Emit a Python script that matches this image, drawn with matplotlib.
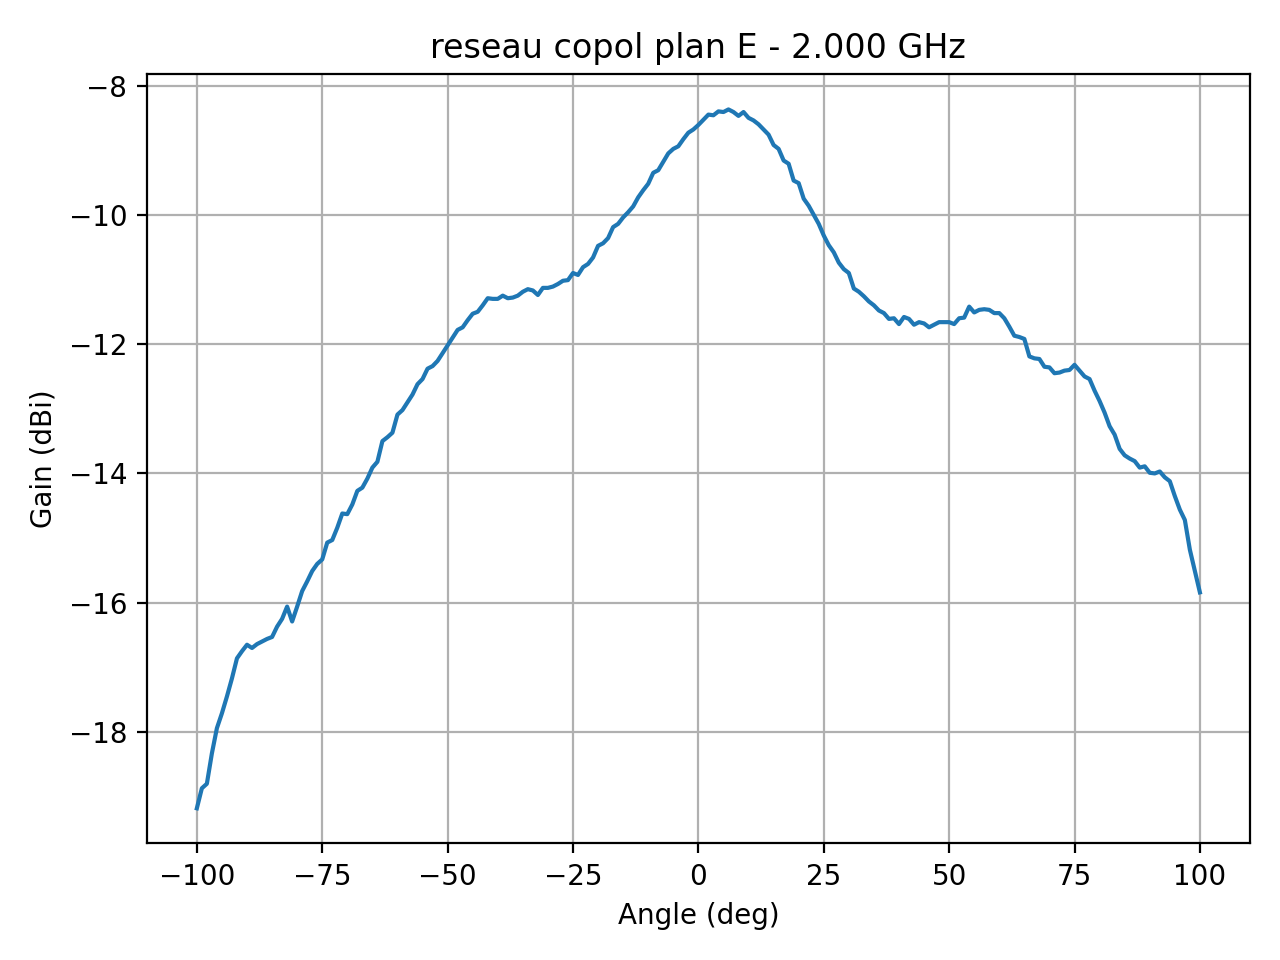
import numpy as np
import matplotlib
matplotlib.use("Agg")
import matplotlib.pyplot as plt

freq_ghz = 2.0
angles = np.arange(-100, 101, 1)

gain_dbi = [
    -19.18, -18.87, -18.80, -18.33, -17.94, -17.71, -17.45, -17.17, -16.86, -16.75,
    -16.65, -16.70, -16.64, -16.60, -16.56, -16.53, -16.37, -16.25, -16.06, -16.29,
    -16.06, -15.82, -15.67, -15.51, -15.40, -15.33, -15.07, -15.03, -14.84, -14.62,
    -14.63, -14.48, -14.27, -14.22, -14.08, -13.91, -13.82, -13.50, -13.44, -13.37,
    -13.09, -13.02, -12.90, -12.78, -12.62, -12.54, -12.38, -12.34, -12.26, -12.14,
    -12.02, -11.90, -11.78, -11.74, -11.63, -11.53, -11.50, -11.40, -11.29, -11.30,
    -11.30, -11.25, -11.29, -11.28, -11.25, -11.19, -11.15, -11.17, -11.24, -11.13,
    -11.13, -11.11, -11.07, -11.02, -11.01, -10.90, -10.93, -10.81, -10.76, -10.66,
    -10.48, -10.44, -10.36, -10.19, -10.14, -10.04, -9.96, -9.87, -9.73, -9.62,
    -9.52, -9.35, -9.31, -9.18, -9.05, -8.98, -8.94, -8.83, -8.73, -8.68,
    -8.61,
    -8.53, -8.45, -8.46, -8.40, -8.41, -8.37, -8.41, -8.47, -8.41, -8.50,
    -8.54, -8.60, -8.68, -8.76, -8.92, -8.98, -9.16, -9.21, -9.47, -9.51,
    -9.75, -9.86, -10.00, -10.14, -10.32, -10.47, -10.58, -10.74, -10.84, -10.90,
    -11.14, -11.19, -11.26, -11.34, -11.40, -11.48, -11.52, -11.61, -11.60, -11.69,
    -11.58, -11.61, -11.70, -11.66, -11.68, -11.74, -11.70, -11.66, -11.66, -11.66,
    -11.69, -11.60, -11.59, -11.42, -11.51, -11.47, -11.46, -11.47, -11.52, -11.52,
    -11.60, -11.73, -11.87, -11.89, -11.92, -12.19, -12.22, -12.23, -12.35, -12.36,
    -12.45, -12.44, -12.41, -12.40, -12.32, -12.41, -12.50, -12.54, -12.72, -12.88,
    -13.06, -13.27, -13.40, -13.62, -13.72, -13.77, -13.81, -13.91, -13.89, -13.99,
    -14.00, -13.97, -14.06, -14.12, -14.35, -14.56, -14.72, -15.18, -15.51, -15.84,
]
assert len(gain_dbi) == len(angles)

fig, ax = plt.subplots(figsize=(6.4, 4.8), dpi=200)

ax.plot(angles, gain_dbi)
ax.grid(True)

ax.set_title("reseau copol plan E - %.3f GHz" % freq_ghz)
ax.set_xlabel("Angle (deg)")
ax.set_ylabel("Gain (dBi)")

# same box as the tight layout of the original
fig.subplots_adjust(left=0.1146, right=0.9766, top=0.9224, bottom=0.1216)
plt.savefig("out.png")
